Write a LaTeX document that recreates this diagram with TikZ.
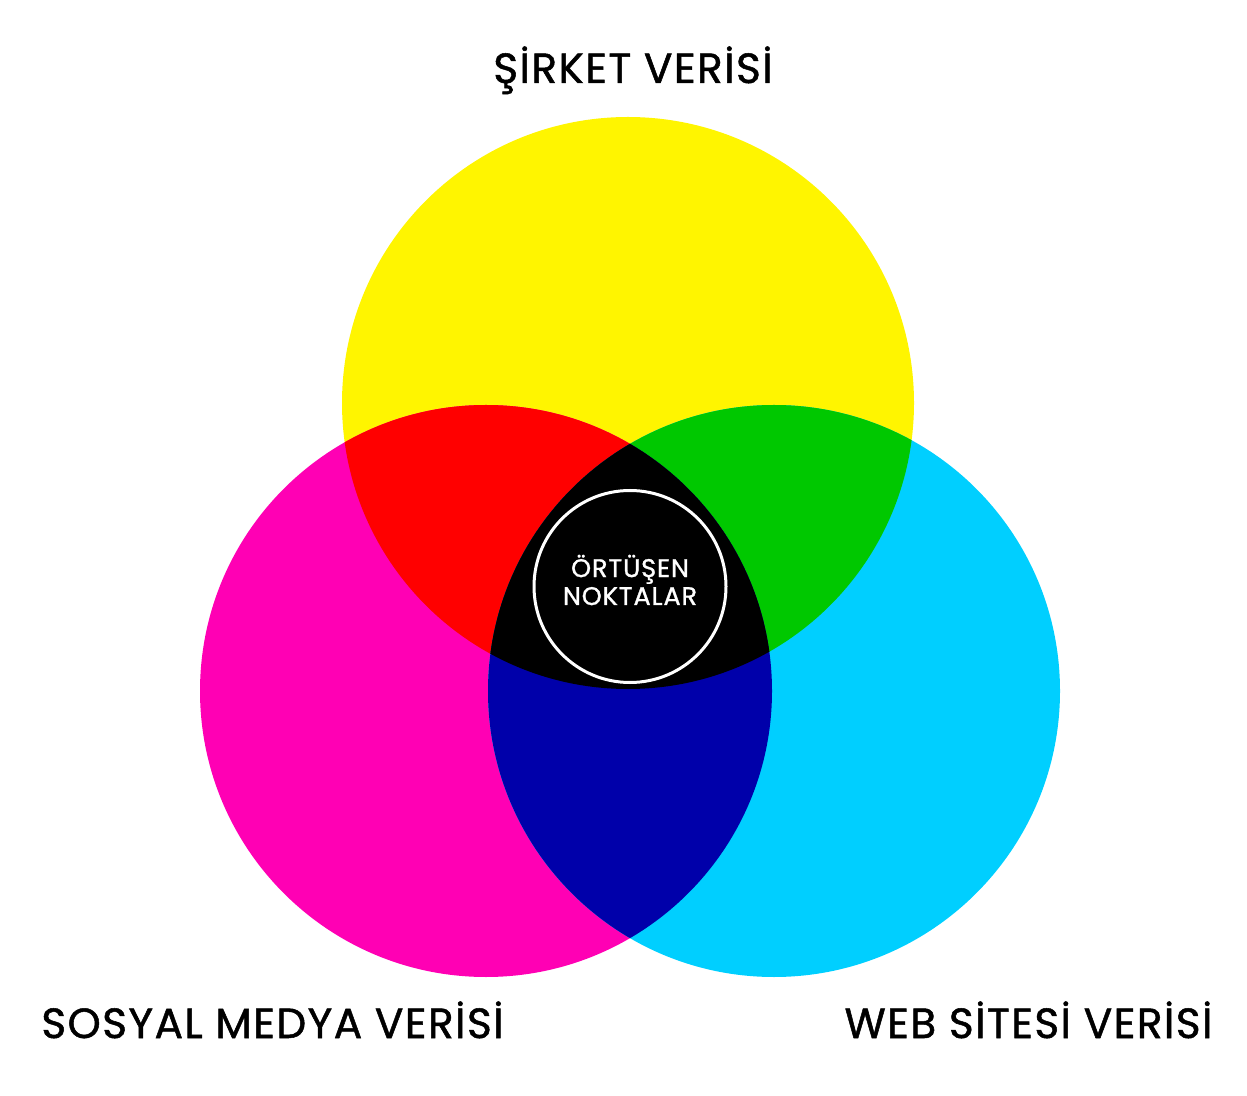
\documentclass[tikz,border=0pt]{standalone}
\usepackage{fontspec}
\setmainfont{Poppins}[FakeBold=1.2,LetterSpace=3.5]
\definecolor{sirketyellow}{RGB}{255,245,0}
\definecolor{sosyalmagenta}{RGB}{255,0,180}
\definecolor{webcyan}{RGB}{0,207,255}
\definecolor{overlapred}{RGB}{255,0,0}
\definecolor{overlapgreen}{RGB}{0,200,0}
\definecolor{overlapblue}{RGB}{0,0,170}
\begin{document}
\begin{tikzpicture}
        \useasboundingbox (0.000000,0.000000) rectangle (24.940000,21.900000);
        {\fontsize{24}{29}\selectfont
        
        % Marking centres of the three sets
        \coordinate (S) at (12.560000,13.840000);%
        \coordinate (M) at (9.720000,8.080000);%
        \coordinate (W) at (15.480000,8.080000);%
        
        % Drawing circle S
        \fill [sirketyellow] (S) circle (5.720000);%
        
        % Drawing circle M
        \fill [sosyalmagenta] (M) circle (5.720000);%
        
        % Drawing circle W
        \fill [webcyan] (W) circle (5.720000);%
        
        % Drawing overlap S M
        \begin{scope}
        \clip (S) circle (5.720000);%
        \fill [overlapred] (M) circle (5.720000);%
        \end{scope}
        
        % Drawing overlap S W
        \begin{scope}
        \clip (S) circle (5.720000);%
        \fill [overlapgreen] (W) circle (5.720000);%
        \end{scope}
        
        % Drawing overlap M W
        \begin{scope}
        \clip (M) circle (5.720000);%
        \fill [overlapblue] (W) circle (5.720000);%
        \end{scope}
        
        % Drawing overlap S M W
        \begin{scope}
        \clip (S) circle (5.720000);%
        \clip (M) circle (5.720000);%
        \fill [black] (W) circle (5.720000);%
        \end{scope}
        
        % Marking overlap by circle
        \draw [white, line width=0.060cm] (12.600000,10.170000) circle (1.920000);%
        \draw (12.600000,10.300000) node [white, align=center, font=\fontsize{14.5}{15.9}\selectfont] (ortusen) { ÖRTÜŞEN\\NOKTALAR };%
        
        % Labels of the sets
        \draw (12.660000,20.240000) node [anchor=base] (sirket) { ŞİRKET VERİSİ };%
        \draw (5.450000,1.140000) node [anchor=base] (sosyal) { SOSYAL MEDYA VERİSİ };%
        \draw (20.570000,1.140000) node [anchor=base] (web) { WEB SİTESİ VERİSİ };%
        }
\end{tikzpicture}
\end{document}
